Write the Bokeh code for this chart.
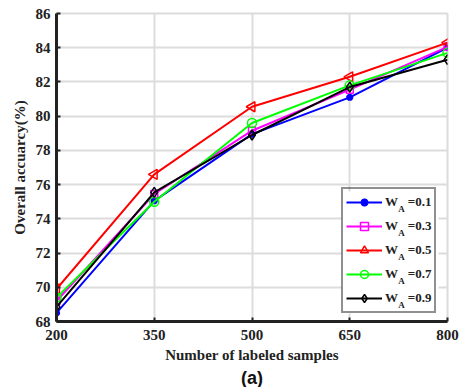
import math
from bokeh.plotting import figure
from bokeh.models import (Range1d, FixedTicker, Legend, LegendItem, Label, Title,
                          BoxAnnotation, ColumnDataSource)
from bokeh.embed import file_html
from bokeh.resources import INLINE

samples = [200, 350, 500, 650, 800]
wa_01 = [68.5, 75.05, 78.95, 81.1, 84.0]
wa_03 = [69.2, 75.45, 79.15, 81.55, 84.05]
wa_05 = [69.9, 76.6, 80.55, 82.3, 84.3]
wa_07 = [69.4, 75.0, 79.6, 81.8, 83.7]
wa_09 = [68.85, 75.55, 78.9, 81.7, 83.3]
series_values = ["0.1", "0.3", "0.5", "0.7", "0.9"]
x_ticks = [200, 350, 500, 650, 800]
y_ticks = [68, 70, 72, 74, 76, 78, 80, 82, 84, 86]

SERIF = "Liberation Serif"

p = figure(width=461, height=387, output_backend="svg", toolbar_location=None,
           x_range=Range1d(200, 800), y_range=Range1d(68, 86),
           min_border_left=56, min_border_right=14, min_border_top=13, min_border_bottom=60)

p.xaxis.ticker = FixedTicker(ticks=x_ticks)
p.yaxis.ticker = FixedTicker(ticks=y_ticks)
for ax in (p.xaxis[0], p.yaxis[0]):
    ax.axis_line_width = 3
    ax.axis_line_color = "#222222"
    ax.major_tick_in = 4
    ax.major_tick_out = 0
    ax.major_tick_line_width = 2
    ax.major_tick_line_color = "#222222"
    ax.minor_tick_line_color = None
    ax.major_label_text_font = SERIF
    ax.major_label_text_font_style = "bold"
    ax.major_label_text_font_size = "15px"
    ax.major_label_text_color = "#222222"
    ax.axis_label_text_font = SERIF
    ax.axis_label_text_font_style = "bold"
    ax.axis_label_text_font_size = "15px"
    ax.axis_label_text_color = "#222222"
p.xaxis.axis_label = "Number of labeled samples"
p.yaxis.axis_label = "Overall accuarcy(%)"
p.xaxis.major_label_standoff = 8
p.yaxis.major_label_standoff = 6
p.xaxis.axis_label_standoff = 4
p.yaxis.axis_label_standoff = 5

p.grid.grid_line_color = "#dcdcdc"
p.grid.grid_line_width = 2
p.outline_line_color = "#dcdcdc"
p.outline_line_width = 2

lw = 2
items = []
r = p.line(samples, wa_01, line_color="#0000ff", line_width=lw)
m = p.scatter(samples, wa_01, marker="asterisk", size=7, line_color="#0000ff", line_width=2.5)
items.append(LegendItem(label="W\u00a0\u00a0\u00a0=" + series_values[0], renderers=[r, m]))
r = p.line(samples, wa_03, line_color="#ff00ff", line_width=lw)
m = p.scatter(samples, wa_03, marker="square", size=7, line_color="#ff00ff", fill_color=None, line_width=1.5)
items.append(LegendItem(label="W\u00a0\u00a0\u00a0=" + series_values[1], renderers=[r, m]))
r = p.line(samples, wa_05, line_color="#ff0000", line_width=lw)
src05 = ColumnDataSource(dict(x=samples, y=wa_05, ang=[math.pi / 2] * len(samples)))
m = p.scatter("x", "y", source=src05, marker="triangle", angle="ang", size=10,
              line_color="#ff0000", fill_color=None, line_width=1.5)
items.append(LegendItem(label="W\u00a0\u00a0\u00a0=" + series_values[2], renderers=[r, m]))
r = p.line(samples, wa_07, line_color="#00ff00", line_width=lw)
m = p.scatter(samples, wa_07, marker="circle", size=9, line_color="#00ff00", fill_color=None, line_width=1.5)
items.append(LegendItem(label="W\u00a0\u00a0\u00a0=" + series_values[3], renderers=[r, m]))
r = p.line(samples, wa_09, line_color="#000000", line_width=lw)
m = p.scatter(samples, wa_09, marker="diamond", size=10, line_color="#000000", fill_color=None, line_width=1.5)
items.append(LegendItem(label="W\u00a0\u00a0\u00a0=" + series_values[4], renderers=[r, m]))

LEG_X, LEG_Y = 285, 8
pad, ih, sp = 3, 20, 4
leg_h = 2 * pad + 5 * ih + 4 * sp

# white legend background drawn first
p.add_layout(BoxAnnotation(left=LEG_X, right=LEG_X + 97, bottom=LEG_Y, top=LEG_Y + leg_h,
                           left_units="screen", right_units="screen",
                           bottom_units="screen", top_units="screen",
                           fill_color="white", fill_alpha=1.0, line_color=None))

legend = Legend(items=items, location=(LEG_X, LEG_Y), margin=0,
                padding=pad, spacing=sp, label_height=ih, glyph_height=ih, glyph_width=36,
                label_standoff=3, label_text_font=SERIF, label_text_font_style="bold",
                label_text_font_size="13px", label_text_color="#222222",
                border_line_color="#222222", border_line_width=2,
                background_fill_alpha=0.0)
p.add_layout(legend, "center")

# subscript "A" next to each legend "W"
for i in range(5):
    cy = LEG_Y + leg_h - pad - ih / 2 - i * (ih + sp)
    p.add_layout(Label(x=LEG_X + 60, y=cy - 4, x_units="screen", y_units="screen", text="A",
                       text_font=SERIF, text_font_style="bold", text_font_size="9px",
                       text_color="#222222", text_baseline="middle", text_align="center"))

t = Title(text="(a)", align="center", text_font="Liberation Sans", text_font_style="bold",
          text_font_size="18px", text_color="#111111", standoff=0)
p.add_layout(t, "below")

open("out.html", "w").write(file_html(p, INLINE))
